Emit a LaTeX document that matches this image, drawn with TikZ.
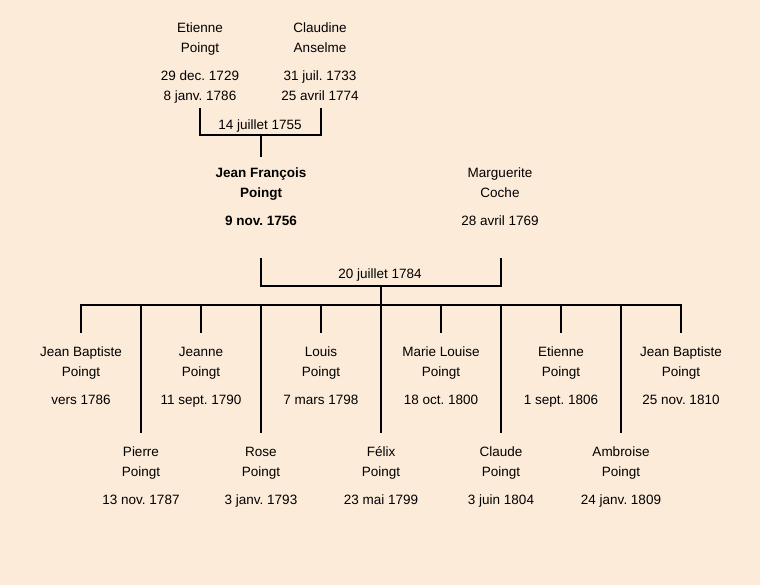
\documentclass[tikz,border=0pt]{standalone}
\usepackage{fontspec}
\setmainfont{Liberation Sans}
\definecolor{bg}{HTML}{FCEBD9}
\begin{document}
\frenchspacing
\begin{tikzpicture}[x=1pt,y=-1pt,
  person/.style={align=center, inner xsep=0pt, inner ysep=14pt, anchor=north,
    font=\fontsize{13.5}{20}\selectfont\frenchspacing},
  parent/.style={person, inner ysep=10.5pt},
  datelabel/.style={anchor=base, inner sep=0pt, font=\fontsize{13.5}{20}\selectfont\frenchspacing},
  link/.style={line width=2.2pt, black}]
\fill[bg] (0,0) rectangle (760,585);
\useasboundingbox (0,0) rectangle (760,585);

% grandparents
\node[person] (et) at (200,8.5) {Etienne\\Poingt\\[8pt]29 dec. 1729\\8 janv. 1786};
\node[person] (cl) at (320,8.5) {Claudine\\Anselme\\[8pt]31 juil. 1733\\25 avril 1774};
\coordinate (m1l) at (200,108);
\coordinate (m1r) at (321,108);
\coordinate (m1c) at (261,135);
\draw[link] (m1l) -- ++(0,27) -| (m1r);
\node[datelabel] (d1) at (260,130) {14 juillet 1755};

% parents
\node[parent] (jf) at (261,157) {\textbf{Jean François}\\\textbf{Poingt}\\[8pt]\textbf{9 nov. 1756}};
\node[parent] (mc) at (500,157) {Marguerite\\Coche\\[8pt]28 avril 1769};
\draw[link] (m1c) -- (jf.north);
\coordinate (m2l) at (261,258);
\coordinate (m2r) at (501,258);
\coordinate (m2c) at (381,286);
\draw[link] (m2l) -- ++(0,28) -| (m2r);
\node[datelabel] (d2) at (380,279) {20 juillet 1784};
\coordinate (bar) at (381,305);
\draw[link] (m2c) -- (bar);

% children, top row
\node[person] (c1) at (81,333) {Jean Baptiste\\Poingt\\[8pt]vers 1786};
\node[person] (c3) at (201,333) {Jeanne\\Poingt\\[8pt]11 sept. 1790};
\node[person] (c5) at (321,333) {Louis\\Poingt\\[8pt]7 mars 1798};
\node[person] (c7) at (441,333) {Marie Louise\\Poingt\\[8pt]18 oct. 1800};
\node[person] (c9) at (561,333) {Etienne\\Poingt\\[8pt]1 sept. 1806};
\node[person] (c11) at (681,333) {Jean Baptiste\\Poingt\\[8pt]25 nov. 1810};
% children, bottom row
\node[person] (c2) at (141,433) {Pierre\\Poingt\\[8pt]13 nov. 1787};
\node[person] (c4) at (261,433) {Rose\\Poingt\\[8pt]3 janv. 1793};
\node[person] (c6) at (381,433) {F\smash{é}lix\\Poingt\\[8pt]23 mai 1799};
\node[person] (c8) at (501,433) {Claude\\Poingt\\[8pt]3 juin 1804};
\node[person] (c10) at (621,433) {Ambroise\\Poingt\\[8pt]24 janv. 1809};

\draw[link] (c1.north) -- (c1.north |- bar) -- (c11.north |- bar) -- (c11.north);
\foreach \c in {c2,c3,c4,c5,c6,c7,c8,c9,c10}
  \draw[link] (\c.north |- bar) -- (\c.north);
\end{tikzpicture}
\end{document}
